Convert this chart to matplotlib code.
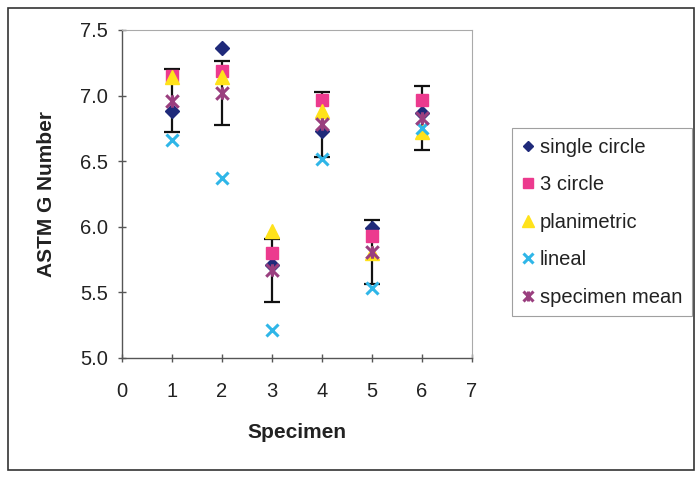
import numpy as np
import matplotlib
matplotlib.use("Agg")
import matplotlib.pyplot as plt
from matplotlib.path import Path
from matplotlib.patches import Rectangle

plt.rcParams['font.family'] = ['Liberation Sans', 'DejaVu Sans']

specimen = [1, 2, 3, 4, 5, 6]
single_circle = [6.88, 7.36, 5.71, 6.73, 5.99, 6.87]
three_circle = [7.15, 7.19, 5.80, 6.97, 5.93, 6.97]
planimetric = [7.14, 7.14, 5.97, 6.88, 5.80, 6.72]
lineal = [6.66, 6.37, 5.21, 6.52, 5.53, 6.75]
specimen_mean = [6.96, 7.02, 5.67, 6.78, 5.81, 6.83]
mean_err = [0.24, 0.245, 0.24, 0.245, 0.245, 0.245]

# X with a vertical stroke, like the spreadsheet "star" marker
star = Path([(-1, -1), (1, 1), (-1, 1), (1, -1), (0, -1), (0, 1)],
            [Path.MOVETO, Path.LINETO] * 3)

fig = plt.figure(figsize=(7, 4.78), dpi=100)
ax = fig.add_axes([122 / 700, 1 - 358 / 478, 350 / 700, 328 / 478])

ax.errorbar(specimen, specimen_mean, yerr=mean_err, fmt='none', ecolor='#111111',
            elinewidth=1.6, capsize=5.5, capthick=1.6, zorder=2)
ax.plot(specimen, single_circle, 'D', color='#1f2a7a', ms=7, ls='none',
        label='single circle', zorder=3)
ax.plot(specimen, three_circle, 's', color='#ec3a8e', ms=9, ls='none',
        label='3 circle', zorder=3)
ax.plot(specimen, planimetric, '^', color='#ffe21a', ms=10, ls='none',
        label='planimetric', zorder=3)
ax.plot(specimen, lineal, 'x', color='#2fb6e8', ms=9, mew=2.2, ls='none',
        label='lineal', zorder=3)
ax.plot(specimen, specimen_mean, marker=star, color='#9a3f7f', ms=9, mew=2.2,
        ls='none', label='specimen mean', zorder=4)

ax.set_xlim(0, 7)
ax.set_ylim(5.0, 7.5)
ax.set_xticks(range(0, 8))
ax.set_yticks([5.0, 5.5, 6.0, 6.5, 7.0, 7.5])
ax.set_yticklabels(['5.0', '5.5', '6.0', '6.5', '7.0', '7.5'])
ax.tick_params(direction='inout', length=6, width=1, color='#555555',
               labelsize=14.5, labelcolor='#222222')
ax.tick_params(axis='y', pad=7)
ax.tick_params(axis='x', pad=14)
for side in ['top', 'right']:
    ax.spines[side].set_color('#aaaaaa')
    ax.spines[side].set_linewidth(0.8)
for side in ['left', 'bottom']:
    ax.spines[side].set_color('#555555')
    ax.spines[side].set_linewidth(1.0)

ax.set_xlabel('Specimen', fontsize=15, fontweight='bold', labelpad=16,
              color='#222222')
ax.set_ylabel('ASTM G Number', fontsize=15, fontweight='bold', labelpad=17,
              color='#222222')

leg = fig.legend(loc='upper left', bbox_to_anchor=(512 / 700, 1 - 128 / 478),
                 prop={'size': 14.5}, frameon=True, fancybox=False,
                 edgecolor='#888888', labelspacing=0.92, handlelength=0.6,
                 handletextpad=0.3, borderpad=0.48, borderaxespad=0,
                 markerscale=0.8)
leg.get_frame().set_linewidth(0.8)
for t in leg.get_texts():
    t.set_color('#222222')

# outer chart border
fig.patches.append(Rectangle((8 / 700, 8 / 478), 686 / 700, 462 / 478,
                             transform=fig.transFigure, fill=False,
                             edgecolor='#333333', linewidth=1.2))

fig.savefig('out.png', dpi=100)
